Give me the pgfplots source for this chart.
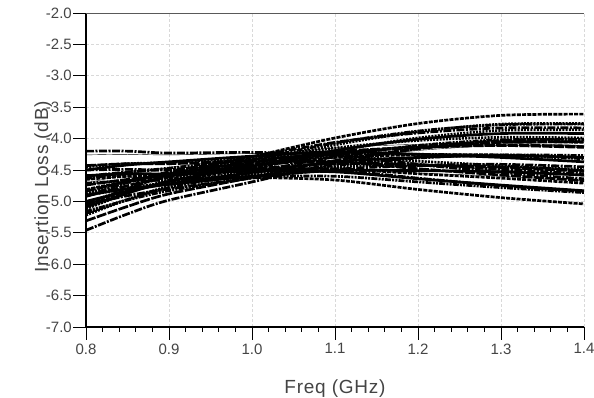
\documentclass[border=0pt]{standalone}
\usepackage{fontspec}
\setmainfont{Liberation Sans}
\usepackage{pgfplots}
\usepackage{pgfplotstable}
\pgfplotsset{compat=1.18}
\definecolor{tickgray}{HTML}{444444}
\pgfplotstableread{
f c1 c2 c3 c4 c5 c6 c7 c8 c9 c10 c11 c12 c13 c14 c15 c16 c17 c18 c19 c20 c21 c22 c23 c24 c25 c26 c27 c28 c29 c30 c31 c32 c33 c34 c35 c36
0.8 -5.46 -5.06 -5.22 -5.03 -5.31 -5.09 -5.19 -4.91 -5.05 -4.88 -5.16 -4.92 -5.00 -4.71 -5.05 -4.81 -4.91 -4.64 -4.74 -4.50 -4.80 -4.60 -4.65 -4.45 -4.71 -4.43 -4.59 -4.26 -4.20 -4.60 -5.12 -5.19 -4.84 -4.90 -4.43 -4.50
0.85 -5.20 -4.80 -4.97 -4.80 -5.08 -4.87 -4.98 -4.70 -4.85 -4.70 -4.98 -4.75 -4.84 -4.57 -4.91 -4.68 -4.79 -4.54 -4.65 -4.42 -4.72 -4.53 -4.60 -4.40 -4.67 -4.40 -4.56 -4.25 -4.20 -4.60 -4.87 -4.97 -4.68 -4.80 -4.39 -4.49
0.9 -4.98 -4.58 -4.76 -4.60 -4.88 -4.68 -4.81 -4.53 -4.69 -4.55 -4.83 -4.61 -4.72 -4.46 -4.80 -4.58 -4.70 -4.47 -4.59 -4.37 -4.67 -4.49 -4.58 -4.38 -4.66 -4.40 -4.56 -4.26 -4.23 -4.63 -4.66 -4.78 -4.56 -4.73 -4.38 -4.50
1.0 -4.69 -4.29 -4.48 -4.34 -4.62 -4.44 -4.57 -4.29 -4.47 -4.34 -4.62 -4.42 -4.54 -4.29 -4.63 -4.43 -4.57 -4.34 -4.48 -4.28 -4.58 -4.41 -4.51 -4.31 -4.61 -4.36 -4.52 -4.24 -4.22 -4.62 -4.38 -4.54 -4.38 -4.60 -4.33 -4.48
1.1 -4.39 -3.99 -4.20 -4.07 -4.35 -4.19 -4.34 -4.06 -4.25 -4.15 -4.43 -4.24 -4.37 -4.15 -4.49 -4.30 -4.45 -4.25 -4.40 -4.21 -4.51 -4.37 -4.48 -4.28 -4.60 -4.37 -4.53 -4.26 -4.26 -4.66 -4.10 -4.29 -4.21 -4.51 -4.32 -4.50
1.2 -4.16 -3.76 -3.99 -3.88 -4.16 -4.01 -4.19 -3.91 -4.12 -4.03 -4.31 -4.14 -4.30 -4.09 -4.43 -4.26 -4.43 -4.25 -4.42 -4.25 -4.55 -4.42 -4.56 -4.36 -4.69 -4.48 -4.64 -4.39 -4.41 -4.81 -3.89 -4.11 -4.14 -4.51 -4.41 -4.63
1.3 -4.03 -3.63 -3.87 -3.78 -4.06 -3.92 -4.11 -3.83 -4.05 -3.98 -4.26 -4.10 -4.27 -4.07 -4.41 -4.26 -4.45 -4.27 -4.46 -4.30 -4.60 -4.49 -4.63 -4.43 -4.78 -4.58 -4.74 -4.51 -4.54 -4.94 -3.77 -4.02 -4.11 -4.53 -4.50 -4.75
1.4 -4.01 -3.61 -3.86 -3.77 -4.05 -3.92 -4.11 -3.83 -4.06 -3.99 -4.27 -4.13 -4.30 -4.11 -4.45 -4.30 -4.49 -4.32 -4.52 -4.37 -4.67 -4.56 -4.71 -4.51 -4.86 -4.67 -4.83 -4.60 -4.64 -5.04 -3.76 -4.02 -4.14 -4.58 -4.58 -4.84
}\mcdata
\pgfplotscreateplotcyclelist{mc}{
{black, line width=2.7pt, dash pattern=on 8pt off 1.5pt on 2pt off 1.5pt},
{black, line width=2.7pt, dash pattern=on 4pt off 1.2pt},
{black, line width=2.7pt, dash pattern=on 2pt off 1.2pt},
{black, line width=2.7pt, dash pattern=on 6pt off 1.2pt on 2pt off 1.2pt on 2pt off 1.2pt},
{black, line width=2.7pt, dash pattern=on 10pt off 1.5pt},
{black, line width=2.7pt},
}
\newcommand{\tkfont}{\fontsize{15}{17}\selectfont}
\begin{document}
\begin{tikzpicture}[x=1pt,y=1pt]
\useasboundingbox (0,0) rectangle (594,398);
\begin{axis}[
  at={(86pt,71pt)}, anchor=south west,
  scale only axis, width=498pt, height=314pt,
  xmin=0.8, xmax=1.4, ymin=-7, ymax=-2,
  axis x line*=bottom, axis y line*=left,
  axis line style={black, line width=1.1pt, -},
  xtick={0.8,0.9,1.0,1.1,1.2,1.3,1.4},
  minor x tick num=4,
  ytick={-7,-6.5,-6,-5.5,-5,-4.5,-4,-3.5,-3,-2.5,-2},
  tick align=outside,
  major tick length=13pt, minor tick length=5pt,
  tick style={black, line width=0.9pt},
  /pgf/number format/assume math mode=true,
  xticklabel={\tkfont\pgfmathprintnumber[fixed,fixed zerofill,precision=1,assume math mode=true]{\tick}},
  yticklabel={\tkfont\pgfmathprintnumber[fixed,fixed zerofill,precision=1,assume math mode=true]{\tick}},
  tick label style={text=tickgray},
  yticklabel style={inner sep=1pt},
  label style={font=\fontsize{19}{21}\selectfont\addfontfeatures{LetterSpace=4}, text=tickgray},
  xlabel={Freq (GHz)}, ylabel={Insertion Loss (dB)},
  xlabel style={at={(rel axis cs:0.5,-0.2102)}, anchor=base},
  ylabel style={at={(rel axis cs:-0.0763,0.446)}, anchor=base},
  grid=major,
  major grid style={gray!30, dash pattern=on 3pt off 2pt, line width=0.6pt},
  cycle list name=mc,
  every axis plot/.append style={smooth, no markers},
]
\pgfplotsinvokeforeach{1,...,36}{\addplot table[x=f,y=c#1]{\mcdata};}
\draw[gray!70!black, line width=0.8pt] (rel axis cs:0,1) -- (rel axis cs:1,1) -- (rel axis cs:1,0);
\end{axis}
\end{tikzpicture}
\end{document}
